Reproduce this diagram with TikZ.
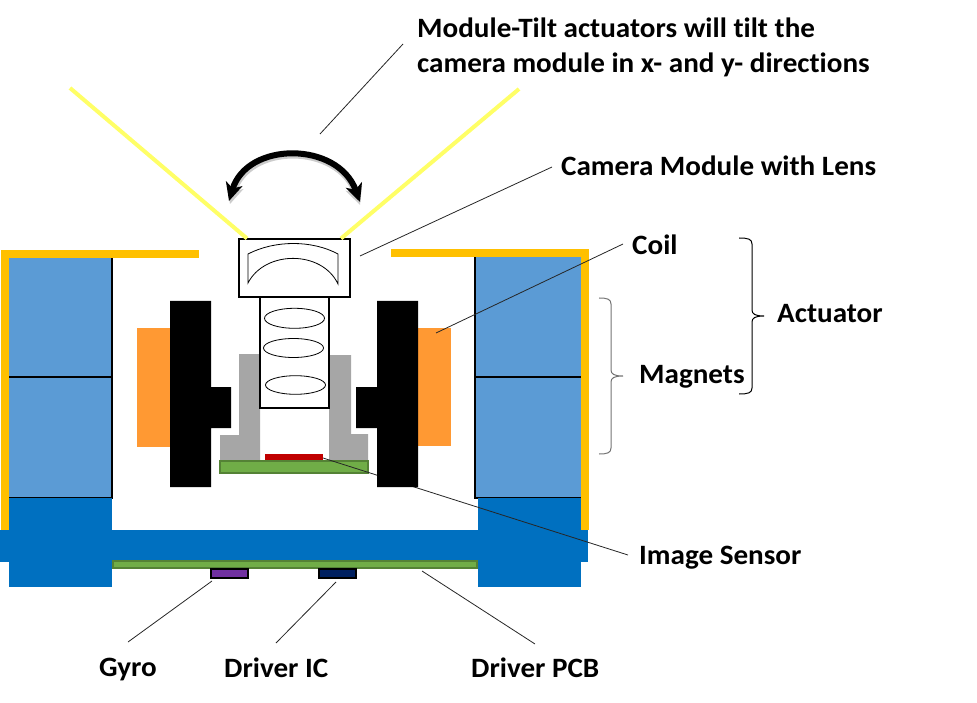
\documentclass[tikz,border=0pt]{standalone}
\usepackage{fontspec}
\setmainfont{Carlito}[FakeStretch=1.04,Ligatures=NoCommon]
\usetikzlibrary{arrows.meta,positioning}
\definecolor{ShellGold}{HTML}{FFC000}
\definecolor{MagnetBlue}{HTML}{5B9BD5}
\definecolor{BaseBlue}{HTML}{0070C0}
\definecolor{BoardGreen}{HTML}{70AD47}
\definecolor{BoardEdge}{HTML}{548235}
\definecolor{CoilOrange}{HTML}{FF9933}
\definecolor{HolderGray}{HTML}{A6A6A6}
\definecolor{SensorRed}{HTML}{C00000}
\definecolor{RayYellow}{HTML}{FFFF66}
\definecolor{GyroPurple}{HTML}{7030A0}
\definecolor{DriverNavy}{HTML}{002060}
\begin{document}
\begin{tikzpicture}[x=1pt,y=-1pt,
    labeltext/.style={anchor=base west,inner sep=0pt,font=\fontsize{28}{32}\selectfont\bfseries},
    leader/.style={line width=0.8pt,black!85},
    bracket/.style={line width=1pt},
    ray/.style={RayYellow,line width=4pt},
    board/.style={fill=BoardGreen,draw=BoardEdge,line width=2pt}]
  \useasboundingbox (0,0) rectangle (977,703);

  \coordinate (tiltFrom) at (320,134);
  \coordinate (tiltTo) at (403,44);
  \coordinate (moduleFrom) at (360,256);
  \coordinate (moduleTo) at (552,167);
  \coordinate (coilFrom) at (436,333);
  \coordinate (coilTo) at (623,244);
  \coordinate (sensorFrom) at (323,458);
  \coordinate (sensorTo) at (628,555);
  \coordinate (gyroFrom) at (212,581);
  \coordinate (gyroTo) at (128,642);
  \coordinate (driverFrom) at (336,582);
  \coordinate (driverTo) at (276,643);
  \coordinate (pcbFrom) at (422,571);
  \coordinate (pcbTo) at (535,644);

  \fill[MagnetBlue] (9,258) rectangle (112,498);
  \fill[MagnetBlue] (475,257) rectangle (581,498);
  \draw[line width=1.6pt] (9,377)--(112,377) (112,258)--(112,498)--(9,498);
  \draw[line width=1.6pt] (475,377)--(581,377) (475,257)--(475,498)--(581,498);
  \fill[BaseBlue] (9,498) rectangle (112,587);
  \fill[BaseBlue] (478,498) rectangle (581,587);
  \fill[BaseBlue] (0,530) rectangle (588,562);
  \fill[ShellGold] (1,250) rectangle (199,258);
  \fill[ShellGold] (1,250) rectangle (9,530);
  \fill[ShellGold] (391,249) rectangle (589,257);
  \fill[ShellGold] (581,249) rectangle (589,530);
  \draw[board] (113,561) rectangle (477,568);
  \draw[fill=GyroPurple,line width=1.5pt] (211,569) rectangle (248,578);
  \draw[fill=DriverNavy,line width=1.5pt] (319,569) rectangle (356,578);

  \fill[CoilOrange] (137,328) rectangle (170,447);
  \fill[CoilOrange] (418,328) rectangle (451,446);
  \fill[HolderGray] (239,354)--(260,354)--(260,460)--(220,460)--(220,435)--(239,435)--cycle;
  \fill[HolderGray] (329,355)--(351,355)--(351,434)--(368,434)--(368,460)--(329,460)--cycle;
  \draw[board] (220,461) rectangle (368,473);
  \fill[SensorRed] (265,454) rectangle (323,460);
  \draw[leader] (sensorFrom)--(sensorTo);
  \fill (170,301)--(211,301)--(211,387)--(231,387)--(231,428)--(211,428)--(211,487)--(170,487)--cycle;
  \fill (377,301)--(418,301)--(418,487)--(377,487)--(377,428)--(356,428)--(356,387)--(377,387)--cycle;

  \draw[line width=2.4pt,fill=white] (239,239) rectangle (350,297);
  \draw[line width=2.4pt,fill=white] (260,297) rectangle (329,408);
  \draw[line width=0.8pt] (248,254) .. controls (275,240) and (312,240) .. (338,254) -- (338,284)
    .. controls (322,250) and (265,250) .. (248,283) -- cycle;
  \draw[line width=0.8pt] (294.5,318.3) ellipse (30 and 10);
  \draw[line width=0.8pt] (293.5,348) ellipse (30 and 9.5);
  \draw[line width=0.8pt] (295.5,385) ellipse (30 and 9.3);

  \draw[ray] (70,88)--(247,238.5);
  \draw[ray] (519,89)--(341,238.5);
  \draw[black!20,line width=6pt,{Stealth[length=18pt,width=17pt,inset=5pt]}-{Stealth[length=18pt,width=17pt,inset=5pt]}]
    (230,204) .. controls (248,143) and (338,143) .. (360,205);
  \draw[line width=6pt,{Stealth[length=18pt,width=17pt,inset=5pt]}-{Stealth[length=18pt,width=17pt,inset=5pt]}]
    (229,201) .. controls (247,141) and (338,141) .. (360,202);

  \draw[leader] (tiltFrom)--(tiltTo);
  \draw[leader] (moduleFrom)--(moduleTo);
  \draw[leader] (coilFrom)--(coilTo);
  \draw[leader] (gyroFrom)--(gyroTo);
  \draw[leader] (driverFrom)--(driverTo);
  \draw[leader] (pcbFrom)--(pcbTo);

  \draw[bracket] (739,238) .. controls (748,238) and (752,239) .. (752,244) -- (752,310)
    .. controls (752,314) and (755,316) .. (764,316) .. controls (755,316) and (752,318) .. (752,322)
    -- (752,388) .. controls (752,393) and (748,394) .. (739,394);
  \draw[bracket,black!55] (599,298) .. controls (607,298) and (611,299) .. (611,304) -- (611,370)
    .. controls (611,374) and (614,376) .. (623,376) .. controls (614,376) and (611,378) .. (611,382)
    -- (611,448) .. controls (611,453) and (607,454) .. (599,454);

  \node[labeltext] (tiltLine) at (417,38) {Module-Tilt actuators will tilt the};
  \node[labeltext] (tiltLineTwo) at (417,73) {camera module in x- and y- directions};
  \node[labeltext] (moduleLabel) at (561,176) {Camera Module with Lens};
  \node[labeltext] (coilLabel) at (632,255) {Coil};
  \node[labeltext] (actuatorLabel) at (777,323) {Actuator};
  \node[labeltext] (magnetsLabel) at (639,383) {Magnets};
  \node[labeltext] (sensorLabel) at (639,564) {Image Sensor};
  \node[labeltext] (gyroLabel) at (99,676) {Gyro};
  \node[labeltext] (driverLabel) at (224,677) {Driver IC};
  \node[labeltext] (pcbLabel) at (471,677) {Driver PCB};
\end{tikzpicture}
\end{document}
